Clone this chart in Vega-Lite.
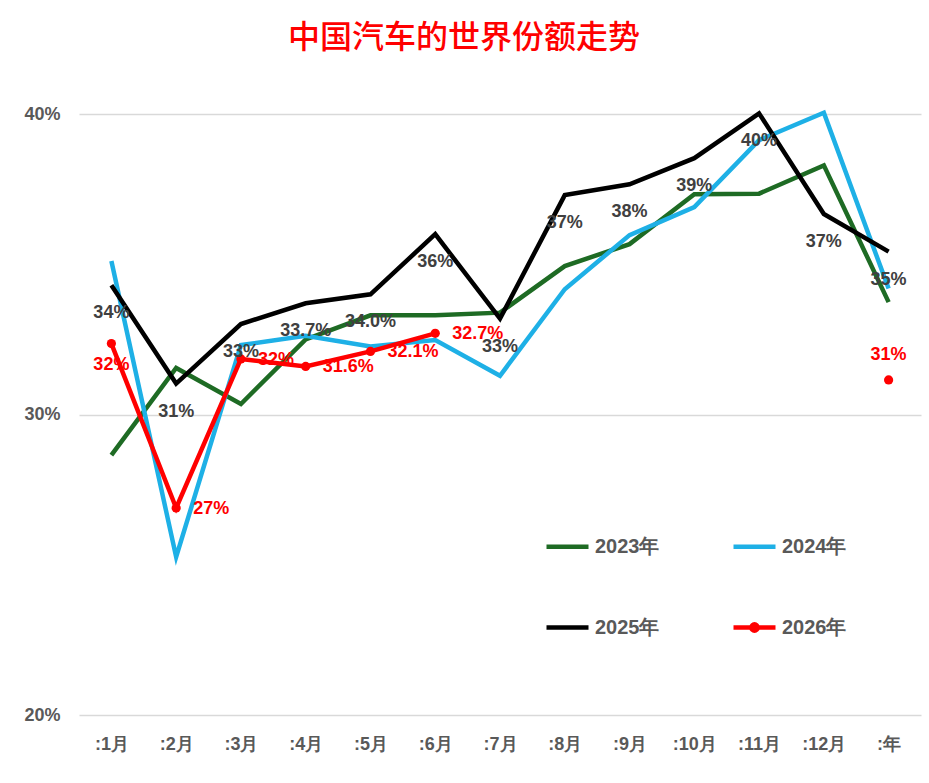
{
  "$schema": "https://vega.github.io/schema/vega-lite/v6.json",
  "width": 842,
  "height": 601,
  "autosize": "none",
  "padding": {"left": 79, "top": 114, "right": 8, "bottom": 68},
  "background": "white",
  "title": {
    "text": "中国汽车的世界份额走势",
    "color": "#FF0000",
    "fontSize": 32,
    "font": "Noto Sans CJK SC",
    "fontWeight": 500,
    "anchor": "middle",
    "frame": "group",
    "dx": -36,
    "offset": 49
  },
  "config": {"view": {"stroke": null}, "font": "Liberation Sans"},
  "data": {
    "values": [
      {"month": ":1月", "series": "2023年", "value": 0.2865},
      {"month": ":2月", "series": "2023年", "value": 0.3155},
      {"month": ":3月", "series": "2023年", "value": 0.3035},
      {"month": ":4月", "series": "2023年", "value": 0.3250},
      {"month": ":5月", "series": "2023年", "value": 0.3330},
      {"month": ":6月", "series": "2023年", "value": 0.3330},
      {"month": ":7月", "series": "2023年", "value": 0.3339},
      {"month": ":8月", "series": "2023年", "value": 0.3494},
      {"month": ":9月", "series": "2023年", "value": 0.3567},
      {"month": ":10月", "series": "2023年", "value": 0.3733},
      {"month": ":11月", "series": "2023年", "value": 0.3735},
      {"month": ":12月", "series": "2023年", "value": 0.3829},
      {"month": ":年", "series": "2023年", "value": 0.3374},
      {"month": ":1月", "series": "2024年", "value": 0.3511},
      {"month": ":2月", "series": "2024年", "value": 0.2526},
      {"month": ":3月", "series": "2024年", "value": 0.3231},
      {"month": ":4月", "series": "2024年", "value": 0.3262},
      {"month": ":5月", "series": "2024年", "value": 0.3226},
      {"month": ":6月", "series": "2024年", "value": 0.3248},
      {"month": ":7月", "series": "2024年", "value": 0.3129},
      {"month": ":8月", "series": "2024年", "value": 0.3417},
      {"month": ":9月", "series": "2024年", "value": 0.3597},
      {"month": ":10月", "series": "2024年", "value": 0.3690},
      {"month": ":11月", "series": "2024年", "value": 0.3913},
      {"month": ":12月", "series": "2024年", "value": 0.4004},
      {"month": ":年", "series": "2024年", "value": 0.3419},
      {"month": ":1月", "series": "2025年", "value": 0.3430, "label": "34%"},
      {"month": ":2月", "series": "2025年", "value": 0.3103, "label": "31%"},
      {"month": ":3月", "series": "2025年", "value": 0.3301, "label": "33%"},
      {"month": ":4月", "series": "2025年", "value": 0.3370, "label": "33.7%"},
      {"month": ":5月", "series": "2025年", "value": 0.3400, "label": "34.0%"},
      {"month": ":6月", "series": "2025年", "value": 0.3600, "label": "36%"},
      {"month": ":7月", "series": "2025年", "value": 0.3319, "label": "33%"},
      {"month": ":8月", "series": "2025年", "value": 0.3730, "label": "37%"},
      {"month": ":9月", "series": "2025年", "value": 0.3766, "label": "38%"},
      {"month": ":10月", "series": "2025年", "value": 0.3853, "label": "39%"},
      {"month": ":11月", "series": "2025年", "value": 0.4002, "label": "40%"},
      {"month": ":12月", "series": "2025年", "value": 0.3667, "label": "37%"},
      {"month": ":年", "series": "2025年", "value": 0.3542, "label": "35%"},
      {"month": ":1月", "series": "2026年", "value": 0.3236, "label": "32%"},
      {"month": ":2月", "series": "2026年", "value": 0.2689, "label": "27%"},
      {"month": ":3月", "series": "2026年", "value": 0.3185, "label": "32%"},
      {"month": ":4月", "series": "2026年", "value": 0.3160, "label": "31.6%"},
      {"month": ":5月", "series": "2026年", "value": 0.3210, "label": "32.1%"},
      {"month": ":6月", "series": "2026年", "value": 0.3270, "label": "32.7%"},
      {"month": ":年", "series": "2026年", "value": 0.3115, "label": "31%"}
    ]
  },
  "encoding": {
    "x": {
      "field": "month",
      "type": "ordinal",
      "scale": {
        "type": "point",
        "padding": 0.5,
        "domain": [":1月", ":2月", ":3月", ":4月", ":5月", ":6月", ":7月", ":8月", ":9月", ":10月", ":11月", ":12月", ":年"]
      },
      "axis": {
        "title": null,
        "domain": false,
        "ticks": false,
        "grid": false,
        "labelAngle": 0,
        "labelFont": "Liberation Sans",
        "labelFontSize": 18,
        "labelFontWeight": "bold",
        "labelColor": "#595959",
        "labelPadding": 20
      }
    },
    "y": {
      "field": "value",
      "type": "quantitative",
      "scale": {"domain": [0.2, 0.4], "nice": false, "zero": false},
      "axis": {
        "title": null,
        "format": ".0%",
        "values": [0.2, 0.3, 0.4],
        "domain": false,
        "ticks": false,
        "grid": true,
        "gridColor": "#d9d9d9",
        "gridWidth": 1.5,
        "labelFont": "Liberation Sans",
        "labelFontSize": 18,
        "labelFontWeight": "bold",
        "labelColor": "#595959",
        "labelPadding": 19
      }
    }
  },
  "layer": [
    {
      "transform": [{"filter": "datum.series !== '2026年' || datum.month !== ':年'"}],
      "mark": {"type": "line", "strokeWidth": 4.5, "strokeJoin": "miter"},
      "encoding": {
        "color": {
          "field": "series",
          "type": "nominal",
          "scale": {
            "domain": ["2023年", "2024年", "2025年", "2026年"],
            "range": ["#1E6B24", "#1EB0E6", "#000000", "#FF0000"]
          },
          "legend": {
            "title": null,
            "orient": "none",
            "legendX": 465,
            "legendY": 409,
            "columns": 2,
            "direction": "horizontal",
            "symbolType": "stroke",
            "symbolSize": 1764,
            "symbolStrokeWidth": 4.5,
            "labelFont": "Liberation Sans",
            "labelFontSize": 20,
            "labelFontWeight": "bold",
            "labelColor": "#595959",
            "labelOffset": 4,
            "columnPadding": 64,
            "rowPadding": 47,
            "encode": {
              "symbols": {
                "update": {
                  "shape": {"signal": "datum.value === '2026年' ? 'M-1,0H1M-0.15,0A0.15,0.15,0,1,1,0.15,0A0.15,0.15,0,1,1,-0.15,0Z' : 'stroke'"},
                  "fill": {"signal": "datum.value === '2026年' ? '#FF0000' : 'transparent'"}
                }
              }
            }
          }
        }
      }
    },
    {
      "transform": [{"filter": "datum.series === '2026年'"}],
      "mark": {"type": "circle", "size": 85, "opacity": 1, "color": "#FF0000"}
    },
    {
      "transform": [{"filter": "datum.series === '2025年'"}],
      "mark": {"type": "text", "dy": 28, "font": "Liberation Sans", "fontSize": 18, "fontWeight": "bold", "color": "#404040"},
      "encoding": {"text": {"field": "label"}}
    },
    {
      "transform": [{"filter": "datum.series === '2026年' && indexof([':2月', ':3月', ':4月', ':5月', ':6月'], datum.month) >= 0"}],
      "mark": {"type": "text", "align": "left", "dx": 17, "dy": 1, "font": "Liberation Sans", "fontSize": 18, "fontWeight": "bold", "color": "#FF0000"},
      "encoding": {"text": {"field": "label"}}
    },
    {
      "transform": [{"filter": "datum.series === '2026年' && datum.month === ':1月'"}],
      "mark": {"type": "text", "dy": 21, "font": "Liberation Sans", "fontSize": 18, "fontWeight": "bold", "color": "#FF0000"},
      "encoding": {"text": {"field": "label"}}
    },
    {
      "transform": [{"filter": "datum.series === '2026年' && datum.month === ':年'"}],
      "mark": {"type": "text", "dy": -25, "font": "Liberation Sans", "fontSize": 18, "fontWeight": "bold", "color": "#FF0000"},
      "encoding": {"text": {"field": "label"}}
    }
  ]
}
